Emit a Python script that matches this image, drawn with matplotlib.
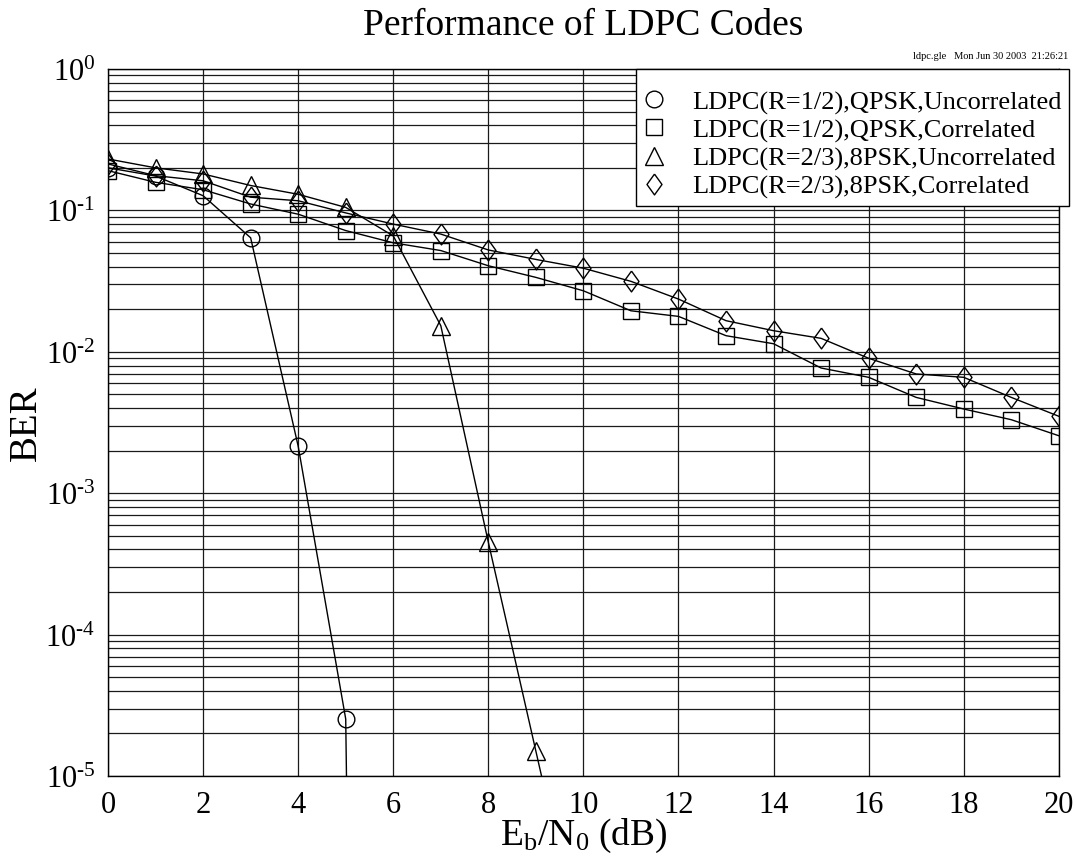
import matplotlib
matplotlib.use("Agg")
import matplotlib.pyplot as plt
import numpy as np
from matplotlib.lines import Line2D
from matplotlib.ticker import (LogLocator, NullFormatter, NullLocator,
                               MultipleLocator, FuncFormatter)

plt.rcParams["font.family"] = ["Liberation Serif", "DejaVu Serif"]
plt.rcParams["mathtext.fontset"] = "custom"
plt.rcParams["mathtext.rm"] = "Liberation Serif"
plt.rcParams["mathtext.it"] = "Liberation Serif:italic"

# Eb/N0 (dB) and BER
x_qpsk_unc = [0, 1, 2, 3, 4, 5, 6]
ber_qpsk_unc = [0.20, 0.175, 0.127, 0.064, 2.15e-3, 2.53e-5, 1e-30]  # last point falls off the axis

x_full = list(range(21))
ber_qpsk_cor = [0.191, 0.158, 0.14, 0.111, 0.094, 0.072, 0.059, 0.052, 0.0406, 0.0336,
                0.027, 0.0195, 0.0178, 0.013, 0.0114, 0.00768, 0.0066, 0.00476, 0.00394,
                0.00331, 0.00255]

x_8psk_unc = [0, 1, 2, 3, 4, 5, 6, 7, 8, 9, 10]
ber_8psk_unc = [0.231, 0.20, 0.181, 0.15, 0.13, 0.105, 0.066, 0.0153, 4.5e-4, 1.5e-5, 5e-7]

ber_8psk_cor = [0.213, 0.176, 0.162, 0.124, 0.117, 0.096, 0.080, 0.068, 0.0525, 0.045,
                0.039, 0.0315, 0.0236, 0.0166, 0.0141, 0.01245, 0.0090, 0.00697, 0.0066,
                0.00476, 0.0035]

labels = ["LDPC(R=1/2),QPSK,Uncorrelated",
          "LDPC(R=1/2),QPSK,Correlated",
          "LDPC(R=2/3),8PSK,Uncorrelated",
          "LDPC(R=2/3),8PSK,Correlated"]

diamond = [(0, 1), (0.72, 0), (0, -1), (-0.72, 0), (0, 1)]
markers = ["o", "s", "^", diamond]
sizes = [12, 12, 13, 15]

series = [(x_qpsk_unc, ber_qpsk_unc), (x_full, ber_qpsk_cor),
          (x_8psk_unc, ber_8psk_unc), (x_full, ber_8psk_cor)]

fig = plt.figure(figsize=(10.76, 8.62), dpi=100)
ax = fig.add_axes([0.1004, 0.0986, 0.8836, 0.8202])

for (xs, ys), m, ms in zip(series, markers, sizes):
    ax.plot(xs, ys, color="black", lw=1.0, marker=m, markersize=ms,
            markerfacecolor="none", markeredgecolor="black", markeredgewidth=1.0)

ax.set_yscale("log")
ax.set_xlim(0, 20)
ax.set_ylim(1e-5, 1)
ax.xaxis.set_major_locator(MultipleLocator(2))
ax.xaxis.set_minor_locator(NullLocator())
ax.yaxis.set_major_locator(LogLocator(base=10, numticks=10))
ax.yaxis.set_minor_locator(LogLocator(base=10, subs=np.arange(2, 10), numticks=20))
ax.yaxis.set_minor_formatter(NullFormatter())
# plain hyphen in the exponent, like the original
ax.yaxis.set_major_formatter(FuncFormatter(
    lambda v, pos: r"$10^{\text{%d}}$" % int(round(np.log10(v)))))

ax.grid(which="major", axis="both", color="0.1", lw=0.9)
ax.grid(which="minor", axis="y", color="0.1", lw=0.9)
ax.tick_params(which="both", direction="in", length=0, labelsize=22)
ax.tick_params(axis="x", pad=10)
ax.tick_params(axis="y", pad=9)
for s in ax.spines.values():
    s.set_color("black")
    s.set_linewidth(1.0)

ax.set_xlabel(r"E$_\mathrm{b}$/N$_\mathrm{0}$ (dB)", fontsize=27, labelpad=-2)
ax.set_ylabel("BER", fontsize=28)
ax.yaxis.set_label_coords(-0.066, 0.5)

handles = [Line2D([], [], ls="none", marker=m, markersize=ms, markerfacecolor="none",
                  markeredgecolor="black", markeredgewidth=1.0)
           for m, ms in zip(markers, sizes)]
# blank title just adds some room above the first row
leg = ax.legend(handles, labels, loc="upper right", bbox_to_anchor=(1.011, 1.0),
                fontsize=19, frameon=True, fancybox=False, framealpha=1,
                edgecolor="black", borderpad=0.3, labelspacing=0.16,
                handletextpad=1.1, handlelength=0.7, borderaxespad=0,
                title=" ", title_fontsize=8)
leg.get_frame().set_linewidth(1.0)

fig.text(0.542, 0.99, "Performance of LDPC Codes", ha="center", va="top", fontsize=27)
fig.text(0.993, 0.929, "ldpc.gle   Mon Jun 30 2003  21:26:21", ha="right",
         va="bottom", fontsize=7.5)

fig.savefig("out.png", dpi=100)
